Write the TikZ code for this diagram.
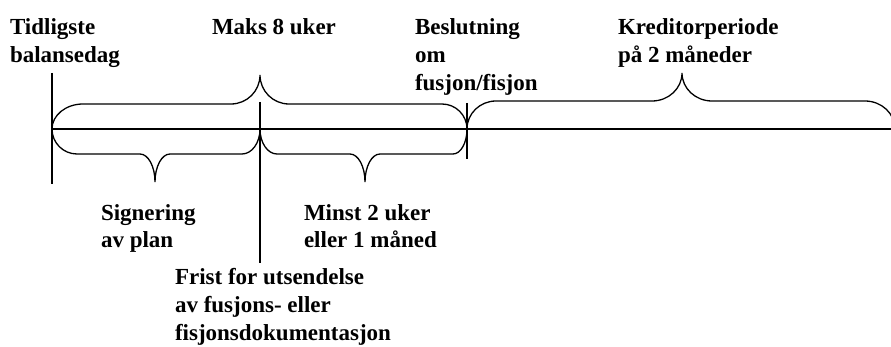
\documentclass[tikz,border=0pt]{standalone}
\usepackage{fontspec}
\setmainfont{Liberation Serif}
\tikzset{
  tl/.style={line width=1.4pt, line cap=butt},
  bracestyle/.style={line width=1.3pt},
  lbl/.style={anchor=base west, align=left, inner sep=0pt, outer sep=0pt,
    font=\fontsize{23}{28}\selectfont\bfseries}
}
% x1, x2, xm, y0, yflat, ytip, rleft, rright, rtip
\newcommand{\tlbrace}[9]{%
 \draw[bracestyle] ({#1},{#4})
  .. controls ({#1},{#4+0.552*(#5-#4)}) and ({#1+0.448*#7},{#5}) .. ({#1+#7},{#5})
  -- ({#3-#9},{#5})
  .. controls ({#3-0.448*#9},{#5}) and ({#3},{#6+0.552*(#5-#6)}) .. ({#3},{#6})
  .. controls ({#3},{#6+0.552*(#5-#6)}) and ({#3+0.448*#9},{#5}) .. ({#3+#9},{#5})
  -- ({#2-#8},{#5})
  .. controls ({#2-0.448*#8},{#5}) and ({#2},{#4+0.552*(#5-#4)}) .. ({#2},{#4});}
\begin{document}
\begin{tikzpicture}[x=1pt,y=-1pt]
\useasboundingbox (0,0) rectangle (891,347);
% timeline points
\coordinate (t0) at (52,129);
\coordinate (t1) at (260,129);
\coordinate (t2) at (467,129);
\coordinate (tend) at (891,129);
\coordinate (v0a) at (52,73);
\coordinate (v0b) at (52,184);
\coordinate (v1a) at (260,102);
\coordinate (v1b) at (260,263);
\coordinate (v2a) at (467,103);
\coordinate (v2b) at (467,159);
% lines
\draw[tl] (t0) -- (tend);
\draw[tl] (v0a) -- (v0b);
\draw[tl] (v1a) -- (v1b);
\draw[tl] (v2a) -- (v2b);
% braces
\tlbrace{52}{467}{260}{129}{104}{75}{31}{25}{29}
\tlbrace{467}{895}{682}{129}{101}{73}{29}{30}{30}
\tlbrace{52}{260}{155}{129}{154}{182}{25}{18}{15}
\tlbrace{260}{467}{365}{129}{154}{182}{17}{14}{15}
% labels (anchored at the baseline of their last line)
\node[lbl] (tidl) at (10,63) {Tidligste\\balansedag};
\node[lbl] (maks) at (212,35) {Maks 8 uker};
\node[lbl] (besl) at (415,91) {Beslutning\\om\\fusjon/fisjon};
\node[lbl] (kred) at (618,63) {Kreditorperiode\\på 2 måneder};
\node[lbl] (sign) at (101,248) {Signering\\av plan};
\node[lbl] (minst) at (304,248) {Minst 2 uker\\eller 1 måned};
\node[lbl] (frist) at (175,340) {Frist for utsendelse\\av fusjons- eller\\fisjonsdokumentasjon};
\end{tikzpicture}
\end{document}
